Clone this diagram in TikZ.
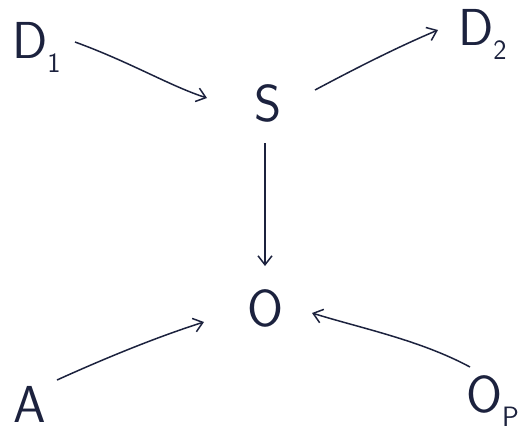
\documentclass[tikz,border=0pt]{standalone}
\usetikzlibrary{arrows.meta}
\definecolor{ink}{RGB}{28,34,62}
\newcommand{\lowsub}[1]{\raisebox{-0.28em}{\fontsize{28}{28}\selectfont #1}}
\begin{document}
\begin{tikzpicture}[x=1pt,y=-1pt,
  lbl/.style={text=ink,font=\sffamily\fontsize{52}{52}\selectfont,inner sep=0pt},
  conn/.style={draw=ink,line width=1.5pt,-{Straight Barb[length=9pt,width=14pt,line width=1.5pt]}}]
\useasboundingbox (0,0) rectangle (522,437);
\node[lbl,anchor=base west] (D1) at (12,58) {D\lowsub{1}};
\node[lbl] (S) at (268,103) {S};
\node[lbl,anchor=base west] (D2) at (458,45) {D\lowsub{2}};
\node[lbl] (O) at (266,308) {O};
\node[lbl,anchor=base] (A) at (30,422) {A};
\node[lbl,anchor=base west] (OP) at (466,412) {O\lowsub{P}};
\coordinate (d1e) at (75,42);
\coordinate (se) at (207,98);
\coordinate (ss) at (315,90);
\coordinate (d2e) at (438,30);
\coordinate (sb) at (265,143);
\coordinate (ot) at (265,266);
\coordinate (ae) at (57,380);
\coordinate (ol) at (204,322);
\coordinate (ope) at (470,367);
\coordinate (or) at (312,313);
\draw[conn] (d1e) .. controls (130,62) and (170,86) .. (se);
\draw[conn] (ss) .. controls (360,66) and (400,46) .. (d2e);
\draw[conn] (sb) -- (ot);
\draw[conn] (ae) .. controls (110,356) and (160,336) .. (ol);
\draw[conn] (ope) .. controls (420,340) and (360,328) .. (or);
\end{tikzpicture}
\end{document}
